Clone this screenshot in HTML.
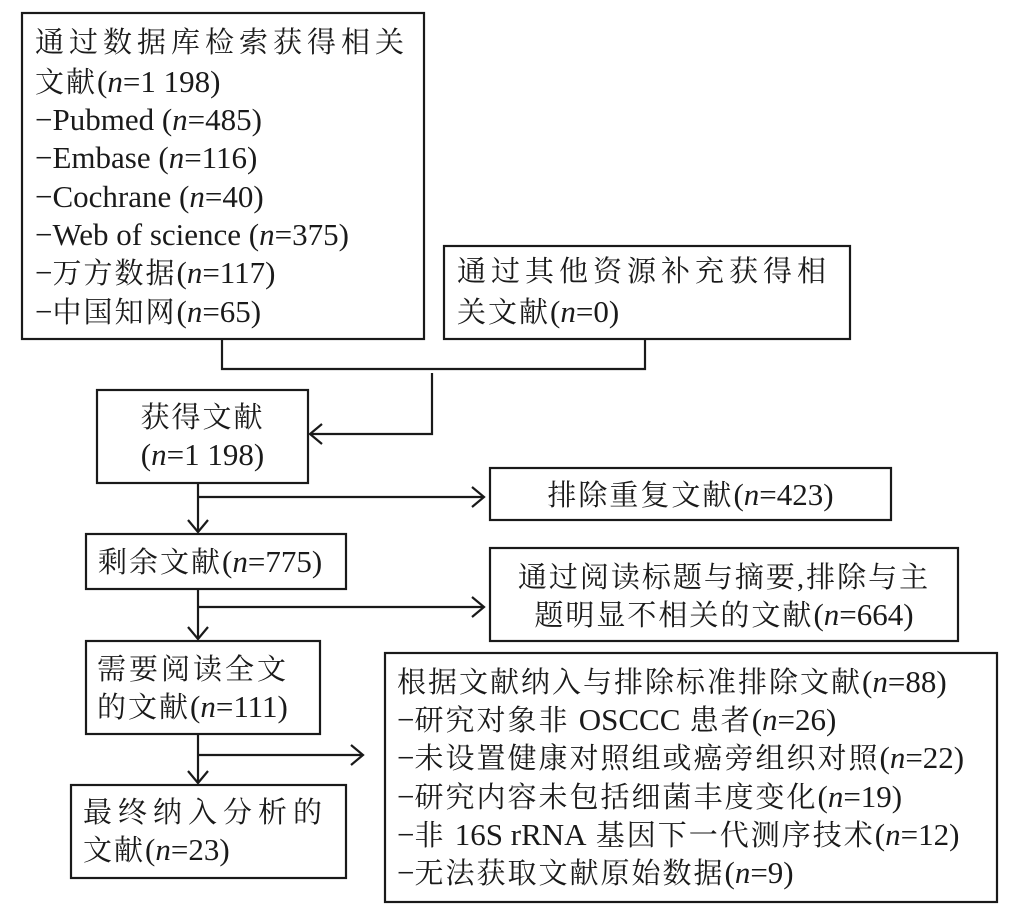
<!DOCTYPE html>
<html><head><meta charset="utf-8"><style>
body{margin:0;width:1030px;height:910px;background:#fff;position:relative;overflow:hidden;font-family:"Liberation Serif","Times New Roman","Noto Serif CJK SC","Noto Sans CJK SC",serif;color:#1a1a1a}
.t{position:absolute;white-space:nowrap;font-size:29px;line-height:38px;letter-spacing:2px}
.c{text-align:center}
i{font-style:italic}
b{font-weight:normal;font-family:"Liberation Serif","Times New Roman",serif;letter-spacing:0;font-size:31px}
svg{position:absolute;left:0;top:0}
</style></head><body>
<svg width="1030" height="910" viewBox="0 0 1030 910" fill="none" stroke="#1a1a1a" stroke-width="2.2">
<rect x="22" y="13" width="402" height="326"/>
<rect x="444" y="246" width="406" height="93"/>
<rect x="97" y="390" width="211" height="93"/>
<rect x="490" y="468" width="401" height="52"/>
<rect x="86" y="534" width="260" height="55"/>
<rect x="490" y="548" width="468" height="93"/>
<rect x="86" y="641" width="234" height="93"/>
<rect x="385" y="653" width="612" height="249"/>
<rect x="71" y="785" width="275" height="93"/>
<polyline points="222,339 222,369 645,369 645,339"/>
<polyline points="432,373 432,434 310,434"/>
<polyline points="322,424 310,434 322,444"/>
<line x1="198" y1="483" x2="198" y2="532"/>
<polyline points="188,520 198,532 208,520"/>
<line x1="198" y1="497" x2="484" y2="497"/>
<polyline points="472,487 484,497 472,507"/>
<line x1="198" y1="589" x2="198" y2="639"/>
<polyline points="188,627 198,639 208,627"/>
<line x1="198" y1="607" x2="484" y2="607"/>
<polyline points="472,597 484,607 472,617"/>
<line x1="198" y1="734" x2="198" y2="783"/>
<polyline points="188,771 198,783 208,771"/>
<line x1="198" y1="755" x2="363" y2="755"/>
<polyline points="351,745 363,755 351,765"/>
</svg>
<div class="t" style="left:35px;top:24px;letter-spacing:5px">通过数据库检索获得相关</div>
<div class="t" style="left:35px;top:63px">文献<b>(<i>n</i>=1 198)</b></div>
<div class="t" style="left:35px;top:101px"><b>−Pubmed (<i>n</i>=485)</b></div>
<div class="t" style="left:35px;top:139px"><b>−Embase (<i>n</i>=116)</b></div>
<div class="t" style="left:35px;top:178px"><b>−Cochrane (<i>n</i>=40)</b></div>
<div class="t" style="left:35px;top:216px"><b>−Web of science (<i>n</i>=375)</b></div>
<div class="t" style="left:35px;top:254px"><b>−</b>万方数据<b>(<i>n</i>=117)</b></div>
<div class="t" style="left:35px;top:293px"><b>−</b>中国知网<b>(<i>n</i>=65)</b></div>
<div class="t" style="left:457px;top:253px;letter-spacing:5px">通过其他资源补充获得相</div>
<div class="t" style="left:457px;top:293px">关文献<b>(<i>n</i>=0)</b></div>
<div class="t c" style="left:97px;width:211px;top:399px">获得文献</div>
<div class="t c" style="left:97px;width:211px;top:436px"><b>(<i>n</i>=1 198)</b></div>
<div class="t c" style="left:490px;width:401px;top:476px">排除重复文献<b>(<i>n</i>=423)</b></div>
<div class="t" style="left:98px;top:543px">剩余文献<b>(<i>n</i>=775)</b></div>
<div class="t c" style="left:490px;width:468px;top:559px">通过阅读标题与摘要,排除与主</div>
<div class="t c" style="left:490px;width:468px;top:596px">题明显不相关的文献<b>(<i>n</i>=664)</b></div>
<div class="t" style="left:97px;top:651px;letter-spacing:3px">需要阅读全文</div>
<div class="t" style="left:97px;top:688px">的文献<b>(<i>n</i>=111)</b></div>
<div class="t" style="left:397px;top:663px">根据文献纳入与排除标准排除文献<b>(<i>n</i>=88)</b></div>
<div class="t" style="left:397px;top:701px"><b>−</b>研究对象非 <b>OSCCC</b> 患者<b>(<i>n</i>=26)</b></div>
<div class="t" style="left:397px;top:739px"><b>−</b>未设置健康对照组或癌旁组织对照<b>(<i>n</i>=22)</b></div>
<div class="t" style="left:397px;top:778px"><b>−</b>研究内容未包括细菌丰度变化<b>(<i>n</i>=19)</b></div>
<div class="t" style="left:397px;top:816px"><b>−</b>非 <b>16S rRNA</b> 基因下一代测序技术<b>(<i>n</i>=12)</b></div>
<div class="t" style="left:397px;top:854px"><b>−</b>无法获取文献原始数据<b>(<i>n</i>=9)</b></div>
<div class="t" style="left:83px;top:794px;letter-spacing:6px">最终纳入分析的</div>
<div class="t" style="left:83px;top:831px">文献<b>(<i>n</i>=23)</b></div>
</body></html>
